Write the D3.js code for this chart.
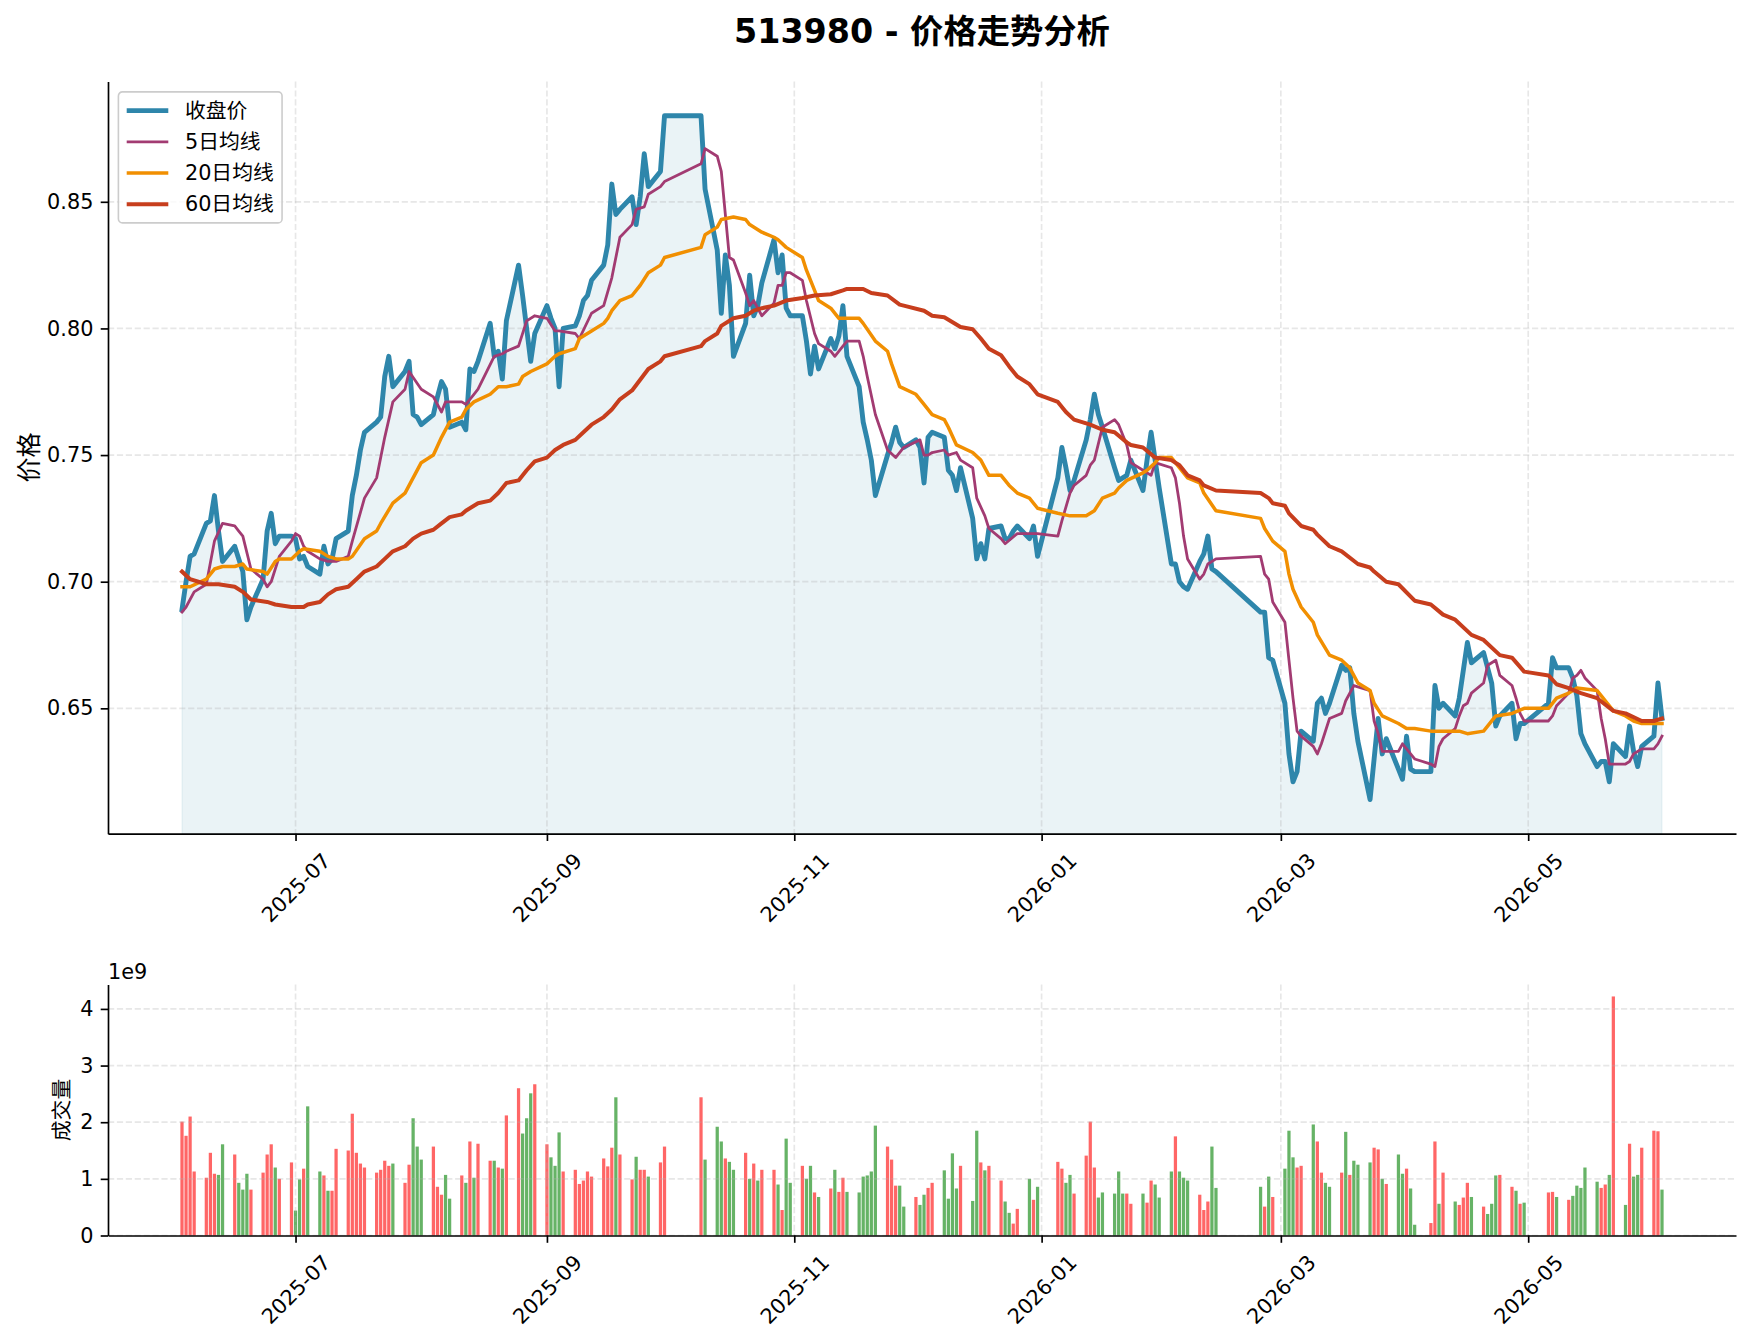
<!DOCTYPE html>
<html>
<head>
<meta charset="utf-8">
<script src="https://cdn.jsdelivr.net/npm/d3@7"></script>
<style>
  body { margin: 0; background: #fff; }
  svg text { font-family: "DejaVu Sans", "Noto Sans CJK SC", sans-serif; }
</style>
</head>
<body>
<svg id="chart"></svg>
<script>
// ---- data ----
const title = "513980 - 价格走势分析";
const seriesNames = ["收盘价", "5日均线", "20日均线", "60日均线"];

const dates = [
  "2025-06-03","2025-06-04","2025-06-05","2025-06-06","2025-06-09","2025-06-10","2025-06-11","2025-06-12","2025-06-13","2025-06-16","2025-06-17","2025-06-18","2025-06-19","2025-06-20","2025-06-23","2025-06-24","2025-06-25","2025-06-26","2025-06-27","2025-06-30",
  "2025-07-01","2025-07-02","2025-07-03","2025-07-04","2025-07-07","2025-07-08","2025-07-09","2025-07-10","2025-07-11","2025-07-14","2025-07-15","2025-07-16","2025-07-17","2025-07-18","2025-07-21","2025-07-22","2025-07-23","2025-07-24","2025-07-25","2025-07-28","2025-07-29","2025-07-30","2025-07-31",
  "2025-08-01","2025-08-04","2025-08-05","2025-08-06","2025-08-07","2025-08-08","2025-08-11","2025-08-12","2025-08-13","2025-08-14","2025-08-15","2025-08-18","2025-08-19","2025-08-20","2025-08-21","2025-08-22","2025-08-25","2025-08-26","2025-08-27","2025-08-28","2025-08-29",
  "2025-09-01","2025-09-02","2025-09-03","2025-09-04","2025-09-05","2025-09-08","2025-09-09","2025-09-10","2025-09-11","2025-09-12","2025-09-15","2025-09-16","2025-09-17","2025-09-18","2025-09-19","2025-09-22","2025-09-23","2025-09-24","2025-09-25","2025-09-26","2025-09-29","2025-09-30",
  "2025-10-09","2025-10-10","2025-10-13","2025-10-14","2025-10-15","2025-10-16","2025-10-17","2025-10-20","2025-10-21","2025-10-22","2025-10-23","2025-10-24","2025-10-27","2025-10-28","2025-10-29","2025-10-30","2025-10-31",
  "2025-11-03","2025-11-04","2025-11-05","2025-11-06","2025-11-07","2025-11-10","2025-11-11","2025-11-12","2025-11-13","2025-11-14","2025-11-17","2025-11-18","2025-11-19","2025-11-20","2025-11-21","2025-11-24","2025-11-25","2025-11-26","2025-11-27","2025-11-28",
  "2025-12-01","2025-12-02","2025-12-03","2025-12-04","2025-12-05","2025-12-08","2025-12-09","2025-12-10","2025-12-11","2025-12-12","2025-12-15","2025-12-16","2025-12-17","2025-12-18","2025-12-19","2025-12-22","2025-12-23","2025-12-24","2025-12-25","2025-12-26","2025-12-29","2025-12-30","2025-12-31",
  "2026-01-05","2026-01-06","2026-01-07","2026-01-08","2026-01-09","2026-01-12","2026-01-13","2026-01-14","2026-01-15","2026-01-16","2026-01-19","2026-01-20","2026-01-21","2026-01-22","2026-01-23","2026-01-26","2026-01-27","2026-01-28","2026-01-29","2026-01-30",
  "2026-02-02","2026-02-03","2026-02-04","2026-02-05","2026-02-06","2026-02-09","2026-02-10","2026-02-11","2026-02-12","2026-02-13","2026-02-24","2026-02-25","2026-02-26","2026-02-27",
  "2026-03-02","2026-03-03","2026-03-04","2026-03-05","2026-03-06","2026-03-09","2026-03-10","2026-03-11","2026-03-12","2026-03-13","2026-03-16","2026-03-17","2026-03-18","2026-03-19","2026-03-20","2026-03-23","2026-03-24","2026-03-25","2026-03-26","2026-03-27","2026-03-30","2026-03-31",
  "2026-04-01","2026-04-02","2026-04-03","2026-04-07","2026-04-08","2026-04-09","2026-04-10","2026-04-13","2026-04-14","2026-04-15","2026-04-16","2026-04-17","2026-04-20","2026-04-21","2026-04-22","2026-04-23","2026-04-24","2026-04-27","2026-04-28","2026-04-29","2026-04-30",
  "2026-05-06","2026-05-07","2026-05-08","2026-05-11","2026-05-12","2026-05-13","2026-05-14","2026-05-15","2026-05-18","2026-05-19","2026-05-20","2026-05-21","2026-05-22","2026-05-25","2026-05-26","2026-05-27","2026-05-28","2026-05-29",
  "2026-06-01","2026-06-02","2026-06-03"
];

const close = [
  0.689,0.700,0.710,0.711,0.723,0.724,0.734,0.720,0.708,0.714,0.709,0.704,0.685,0.690,0.701,0.720,0.727,0.715,0.718,0.718,
  0.717,0.709,0.710,0.706,0.703,0.714,0.707,0.709,0.717,0.720,0.734,0.742,0.752,0.759,0.763,0.765,0.781,0.789,0.777,0.783,0.787,0.766,0.765,
  0.762,0.766,0.773,0.779,0.776,0.761,0.763,0.760,0.784,0.783,0.787,0.802,0.789,0.791,0.780,0.803,0.825,0.813,0.800,0.787,0.798,
  0.809,0.804,0.800,0.777,0.800,0.801,0.805,0.811,0.813,0.819,0.825,0.833,0.857,0.845,0.847,0.852,0.841,0.852,0.869,0.856,0.862,0.884,
  0.884,0.855,0.831,0.806,0.829,0.817,0.789,0.802,0.821,0.805,0.809,0.818,0.835,0.822,0.829,0.808,0.805,
  0.805,0.795,0.782,0.793,0.784,0.796,0.792,0.797,0.809,0.789,0.777,0.763,0.756,0.748,0.734,0.750,0.755,0.761,0.755,0.753,
  0.756,0.753,0.739,0.757,0.759,0.757,0.744,0.742,0.736,0.745,0.725,0.709,0.715,0.709,0.721,0.722,0.717,0.717,0.720,0.722,0.717,0.722,0.710,
  0.741,0.753,0.745,0.736,0.740,0.756,0.764,0.774,0.766,0.761,0.745,0.740,0.741,0.742,0.748,0.736,0.748,0.759,0.748,0.737,
  0.707,0.707,0.700,0.698,0.697,0.708,0.711,0.718,0.705,0.704,0.688,0.688,0.670,0.669,
  0.652,0.632,0.621,0.625,0.641,0.637,0.652,0.654,0.648,0.652,0.667,0.665,0.666,0.648,0.637,0.614,0.630,0.646,0.632,0.638,0.626,0.622,
  0.639,0.626,0.625,0.625,0.659,0.650,0.652,0.647,0.654,0.665,0.676,0.668,0.672,0.666,0.660,0.643,0.647,0.652,0.638,0.644,0.644,
  0.652,0.670,0.666,0.666,0.662,0.655,0.640,0.636,0.627,0.629,0.629,0.621,0.636,0.631,0.643,0.633,0.627,0.635,
  0.639,0.660,0.646
];

// volume in units of 1e9
const volume = [
  2.01,1.76,2.10,1.13,1.02,1.46,1.09,1.07,1.61,1.43,0.93,0.81,1.09,0.81,1.11,1.43,1.61,1.20,1.00,1.29,
  0.44,0.99,1.18,2.28,1.13,1.06,0.79,0.79,1.53,1.50,2.15,1.46,1.27,1.20,1.11,1.16,1.32,1.23,1.27,0.93,1.25,2.07,1.57,
  1.34,1.57,0.86,0.72,1.07,0.65,1.06,0.93,1.66,1.02,1.62,1.32,1.32,1.20,1.18,2.12,2.60,1.80,2.07,2.51,2.67,
  1.61,1.38,1.23,1.82,1.13,1.16,0.91,0.97,1.13,1.04,1.36,1.22,1.55,2.44,1.43,0.99,1.39,1.16,1.16,1.04,1.29,1.57,
  2.44,1.34,1.92,1.66,1.36,1.30,1.16,1.46,1.00,1.27,0.97,1.16,1.16,0.90,0.45,1.71,0.93,
  1.23,1.00,1.23,0.76,0.68,0.83,1.16,0.77,1.02,0.77,0.76,1.04,1.06,1.13,1.94,1.57,1.34,0.88,0.88,0.51,
  0.68,0.54,0.72,0.84,0.93,1.15,0.65,1.45,0.83,1.23,0.61,1.85,1.29,1.15,1.23,0.97,0.60,0.40,0.21,0.47,1.00,0.63,0.86,
  1.30,1.18,0.93,1.07,0.74,1.41,2.01,1.20,0.67,0.76,0.74,1.13,0.74,0.74,0.56,0.74,0.58,0.97,0.90,0.67,
  1.13,1.75,1.13,1.02,0.97,0.72,0.45,0.60,1.57,0.84,0.86,0.51,1.04,0.68,
  1.18,1.85,1.38,1.20,1.23,1.96,1.66,1.11,0.93,0.86,1.11,1.83,1.07,1.32,1.25,1.29,1.55,1.52,1.00,0.91,1.43,1.09,
  1.18,0.83,0.19,0.22,1.66,0.56,1.11,0.60,0.54,0.67,0.93,0.68,0.51,0.38,0.56,1.06,1.07,0.86,0.79,0.56,0.58,
  0.76,0.77,0.68,0.63,0.70,0.88,0.84,1.20,0.95,0.84,0.90,1.07,4.22,0.54,1.62,1.04,1.07,1.55,
  1.85,1.84,0.81
];

// 1 = up day (red bar), 0 = down day (green bar)
const upDay = [
  1,1,1,1,1,1,1,0,0,1,0,0,0,1,1,1,1,0,1,1,
  0,0,1,0,0,1,0,1,1,1,1,1,1,1,1,1,1,1,0,1,1,0,0,
  0,1,1,1,0,0,1,0,1,0,1,1,0,1,0,1,1,0,0,0,1,
  1,0,0,0,1,1,1,1,1,1,1,1,1,0,1,1,0,1,1,0,1,1,
  1,0,0,0,1,0,0,1,0,1,0,1,1,0,1,0,0,
  1,0,0,1,0,1,0,1,1,0,0,0,0,0,0,1,1,1,0,0,
  1,0,0,1,1,0,0,0,0,1,0,0,1,0,1,1,0,0,1,1,0,1,0,
  1,1,0,0,1,1,1,1,0,0,0,0,0,1,1,0,1,1,0,0,
  0,1,0,0,0,1,1,1,0,0,0,1,0,1,
  0,0,0,1,1,0,1,1,0,0,1,0,1,0,0,0,1,1,0,1,0,0,
  1,0,0,1,1,0,1,0,1,1,1,0,1,0,0,0,1,1,0,1,0,
  1,1,0,1,0,0,0,0,0,1,1,0,1,0,1,0,0,1,
  1,1,0
];

// moving averages, sampled where the curves bend
const ma5Dates = [
  "2025-06-03","2025-06-04","2025-06-06","2025-06-09","2025-06-11","2025-06-13","2025-06-16","2025-06-17","2025-06-18","2025-06-20","2025-06-23","2025-06-24","2025-06-25","2025-06-27","2025-06-30",
  "2025-07-01","2025-07-02","2025-07-03","2025-07-04","2025-07-07","2025-07-09","2025-07-11","2025-07-14","2025-07-15","2025-07-18","2025-07-21","2025-07-23","2025-07-25","2025-07-28","2025-07-29",
  "2025-08-01","2025-08-04","2025-08-06","2025-08-07","2025-08-11","2025-08-12","2025-08-14","2025-08-15","2025-08-19","2025-08-21","2025-08-22","2025-08-25","2025-08-27","2025-08-29",
  "2025-09-01","2025-09-03","2025-09-04","2025-09-08","2025-09-09","2025-09-12","2025-09-15","2025-09-17","2025-09-19","2025-09-22","2025-09-23","2025-09-25","2025-09-26","2025-09-29","2025-09-30",
  "2025-10-09","2025-10-10","2025-10-13","2025-10-14","2025-10-15","2025-10-16","2025-10-17","2025-10-20","2025-10-21","2025-10-22","2025-10-24","2025-10-27","2025-10-28","2025-10-29","2025-10-30","2025-10-31",
  "2025-11-03","2025-11-04","2025-11-06","2025-11-07","2025-11-10","2025-11-11","2025-11-13","2025-11-14","2025-11-17","2025-11-18","2025-11-19","2025-11-21","2025-11-24","2025-11-26","2025-11-28",
  "2025-12-02","2025-12-03","2025-12-04","2025-12-05","2025-12-08","2025-12-09","2025-12-11","2025-12-12","2025-12-15","2025-12-16","2025-12-18","2025-12-19","2025-12-22","2025-12-23","2025-12-26","2025-12-29","2025-12-31",
  "2026-01-05","2026-01-06","2026-01-08","2026-01-09","2026-01-12","2026-01-13","2026-01-14","2026-01-16","2026-01-19","2026-01-20","2026-01-22","2026-01-23","2026-01-26","2026-01-28","2026-01-29",
  "2026-02-02","2026-02-03","2026-02-04","2026-02-05","2026-02-06","2026-02-09","2026-02-10","2026-02-11","2026-02-13","2026-02-24","2026-02-25","2026-02-26","2026-02-27",
  "2026-03-02","2026-03-03","2026-03-04","2026-03-05","2026-03-06","2026-03-09","2026-03-10","2026-03-11","2026-03-13","2026-03-16","2026-03-17","2026-03-19","2026-03-23","2026-03-24","2026-03-25","2026-03-26","2026-03-30","2026-03-31",
  "2026-04-03","2026-04-07","2026-04-08","2026-04-09","2026-04-10","2026-04-13","2026-04-14","2026-04-15","2026-04-16","2026-04-17","2026-04-20","2026-04-21","2026-04-23","2026-04-24","2026-04-27","2026-04-28","2026-04-29","2026-04-30",
  "2026-05-06","2026-05-07","2026-05-08","2026-05-11","2026-05-12","2026-05-13","2026-05-14","2026-05-15","2026-05-18","2026-05-19","2026-05-20","2026-05-21","2026-05-25","2026-05-26","2026-05-27","2026-05-28","2026-05-29",
  "2026-06-01","2026-06-02","2026-06-03"
];
const ma5 = [
  0.688,0.690,0.696,0.699,0.716,0.723,0.722,0.720,0.718,0.705,0.701,0.698,0.700,0.710,0.716,
  0.719,0.718,0.714,0.712,0.709,0.708,0.708,0.710,0.716,0.733,0.741,0.757,0.771,0.776,0.783,
  0.776,0.773,0.767,0.771,0.771,0.770,0.774,0.776,0.789,0.790,0.791,0.793,0.803,0.805,
  0.804,0.799,0.799,0.798,0.796,0.806,0.809,0.820,0.836,0.841,0.847,0.848,0.853,0.856,0.858,
  0.865,0.871,0.868,0.862,0.845,0.828,0.827,0.814,0.809,0.811,0.805,0.810,0.817,0.817,0.822,0.822,
  0.819,0.811,0.798,0.794,0.791,0.789,0.793,0.795,0.795,0.789,0.781,0.766,0.752,0.749,0.753,
  0.756,0.750,0.750,0.751,0.752,0.750,0.751,0.748,0.745,0.733,0.726,0.721,0.717,0.715,0.719,0.719,0.719,
  0.718,0.724,0.735,0.738,0.742,0.746,0.748,0.761,0.764,0.762,0.754,0.747,0.744,0.742,0.747,
  0.745,0.741,0.731,0.718,0.709,0.701,0.703,0.707,0.709,0.710,0.703,0.701,0.692,
  0.684,0.669,0.654,0.641,0.639,0.635,0.632,0.636,0.646,0.648,0.653,0.659,0.657,0.645,0.640,0.633,0.633,0.636,
  0.630,0.628,0.627,0.635,0.638,0.642,0.647,0.651,0.652,0.656,0.660,0.667,0.669,0.663,0.659,0.654,0.648,0.645,
  0.645,0.647,0.651,0.656,0.662,0.663,0.665,0.662,0.657,0.646,0.638,0.628,0.628,0.629,0.632,0.633,0.634,
  0.634,0.636,0.639
];

const ma20Dates = [
  "2025-06-03","2025-06-05","2025-06-09","2025-06-11","2025-06-13","2025-06-16","2025-06-18","2025-06-19","2025-06-23","2025-06-24","2025-06-26","2025-06-27","2025-06-30",
  "2025-07-02","2025-07-03","2025-07-07","2025-07-09","2025-07-11","2025-07-14","2025-07-15","2025-07-18","2025-07-21","2025-07-22","2025-07-25","2025-07-28","2025-07-30",
  "2025-08-01","2025-08-04","2025-08-06","2025-08-08","2025-08-11","2025-08-12","2025-08-14","2025-08-18","2025-08-20","2025-08-22","2025-08-25","2025-08-26","2025-08-28",
  "2025-09-01","2025-09-03","2025-09-04","2025-09-08","2025-09-09","2025-09-12","2025-09-15","2025-09-16","2025-09-17","2025-09-19","2025-09-22","2025-09-24","2025-09-26","2025-09-29","2025-09-30",
  "2025-10-09","2025-10-10","2025-10-13","2025-10-14","2025-10-17","2025-10-20","2025-10-21","2025-10-24","2025-10-27","2025-10-28","2025-10-30",
  "2025-11-03","2025-11-04","2025-11-06","2025-11-07","2025-11-10","2025-11-12","2025-11-17","2025-11-18","2025-11-21","2025-11-24","2025-11-25","2025-11-27",
  "2025-12-01","2025-12-03","2025-12-05","2025-12-08","2025-12-09","2025-12-11","2025-12-15","2025-12-17","2025-12-19","2025-12-22","2025-12-24","2025-12-26","2025-12-29","2025-12-31",
  "2026-01-05","2026-01-08","2026-01-12","2026-01-14","2026-01-16","2026-01-19","2026-01-20","2026-01-22","2026-01-26","2026-01-27","2026-01-29","2026-01-30",
  "2026-02-02","2026-02-03","2026-02-06","2026-02-09","2026-02-10","2026-02-13","2026-02-24","2026-02-25","2026-02-27",
  "2026-03-02","2026-03-03","2026-03-04","2026-03-06","2026-03-09","2026-03-10","2026-03-13","2026-03-16","2026-03-18","2026-03-20","2026-03-23","2026-03-24","2026-03-26","2026-03-30",
  "2026-04-01","2026-04-03","2026-04-07","2026-04-10","2026-04-14","2026-04-16","2026-04-20","2026-04-23","2026-04-27","2026-04-30",
  "2026-05-06","2026-05-08","2026-05-11","2026-05-13","2026-05-18","2026-05-22","2026-05-25","2026-05-27","2026-05-29",
  "2026-06-01","2026-06-03"
];
const ma20 = [
  0.698,0.698,0.701,0.705,0.706,0.706,0.707,0.705,0.704,0.703,0.708,0.709,0.709,
  0.712,0.713,0.712,0.710,0.709,0.709,0.710,0.717,0.720,0.723,0.731,0.735,0.741,
  0.747,0.750,0.757,0.763,0.765,0.768,0.771,0.774,0.777,0.777,0.778,0.781,0.783,
  0.786,0.789,0.790,0.792,0.796,0.799,0.802,0.804,0.807,0.811,0.813,0.817,0.822,0.825,0.828,
  0.832,0.837,0.840,0.843,0.844,0.843,0.841,0.838,0.836,0.835,0.832,
  0.828,0.823,0.815,0.811,0.808,0.804,0.804,0.802,0.795,0.791,0.786,0.777,
  0.774,0.770,0.766,0.764,0.761,0.754,0.751,0.748,0.742,0.742,0.738,0.735,0.733,0.729,
  0.727,0.726,0.726,0.728,0.733,0.735,0.737,0.740,0.743,0.744,0.747,0.749,
  0.749,0.747,0.741,0.739,0.735,0.728,0.725,0.721,0.716,
  0.712,0.703,0.697,0.690,0.684,0.679,0.671,0.669,0.666,0.660,0.657,0.652,0.647,0.644,
  0.642,0.642,0.641,0.641,0.641,0.640,0.641,0.647,0.648,0.650,
  0.650,0.654,0.656,0.658,0.657,0.649,0.647,0.645,0.644,
  0.644,0.644
];

const ma60Dates = [
  "2025-06-03","2025-06-05","2025-06-09","2025-06-12","2025-06-16","2025-06-18","2025-06-20","2025-06-24","2025-06-26","2025-06-30",
  "2025-07-03","2025-07-04","2025-07-07","2025-07-09","2025-07-11","2025-07-14","2025-07-16","2025-07-18","2025-07-21","2025-07-23","2025-07-25","2025-07-28","2025-07-30",
  "2025-08-01","2025-08-04","2025-08-06","2025-08-08","2025-08-11","2025-08-12","2025-08-15","2025-08-18","2025-08-20","2025-08-22","2025-08-25","2025-08-27","2025-08-29",
  "2025-09-01","2025-09-03","2025-09-05","2025-09-08","2025-09-10","2025-09-12","2025-09-15","2025-09-17","2025-09-19","2025-09-22","2025-09-26","2025-09-29","2025-09-30",
  "2025-10-09","2025-10-10","2025-10-13","2025-10-14","2025-10-17","2025-10-20","2025-10-22","2025-10-24","2025-10-27","2025-10-30",
  "2025-11-03","2025-11-06","2025-11-10","2025-11-13","2025-11-14","2025-11-18","2025-11-20","2025-11-24","2025-11-27","2025-11-28",
  "2025-12-03","2025-12-05","2025-12-08","2025-12-12","2025-12-15","2025-12-17","2025-12-19","2025-12-22","2025-12-24","2025-12-26","2025-12-29","2025-12-31",
  "2026-01-05","2026-01-07","2026-01-09","2026-01-13","2026-01-16","2026-01-19","2026-01-22","2026-01-23","2026-01-26","2026-01-29",
  "2026-02-02","2026-02-04","2026-02-06","2026-02-09","2026-02-10","2026-02-13","2026-02-24","2026-02-26","2026-02-27",
  "2026-03-02","2026-03-03","2026-03-06","2026-03-09","2026-03-10","2026-03-13","2026-03-16","2026-03-20","2026-03-23","2026-03-24","2026-03-27","2026-03-30",
  "2026-04-03","2026-04-07","2026-04-10","2026-04-13","2026-04-17","2026-04-20","2026-04-24","2026-04-27","2026-04-30",
  "2026-05-06","2026-05-08","2026-05-11","2026-05-14","2026-05-18","2026-05-22","2026-05-25","2026-05-29",
  "2026-06-01","2026-06-03"
];
const ma60 = [
  0.704,0.701,0.699,0.699,0.698,0.696,0.693,0.692,0.691,0.690,
  0.690,0.691,0.692,0.695,0.697,0.698,0.701,0.704,0.706,0.709,0.712,0.714,0.717,
  0.719,0.7205,0.723,0.7255,0.7266,0.728,0.731,0.732,0.735,0.739,0.740,0.744,0.7475,
  0.749,0.752,0.754,0.756,0.759,0.762,0.765,0.768,0.772,0.7755,0.784,0.787,0.789,
  0.793,0.795,0.798,0.801,0.804,0.805,0.807,0.808,0.809,0.811,
  0.812,0.813,0.8135,0.815,0.8156,0.8156,0.814,0.813,0.8094,0.809,
  0.807,0.805,0.8044,0.8006,0.7997,0.796,0.792,0.7894,0.785,0.781,0.778,0.774,
  0.771,0.767,0.764,0.762,0.760,0.759,0.755,0.754,0.753,0.749,
  0.748,0.746,0.742,0.740,0.738,0.736,0.735,0.733,0.731,
  0.730,0.727,0.722,0.7205,0.7186,0.714,0.712,0.707,0.7056,0.704,0.700,0.699,
  0.6925,0.691,0.687,0.685,0.679,0.677,0.671,0.670,0.6645,
  0.663,0.6595,0.658,0.656,0.654,0.649,0.648,0.645,
  0.645,0.646
];

const monthTicks = ["2025-07-01","2025-09-01","2025-11-01","2026-01-01","2026-03-01","2026-05-01"];

// ---- layout ----
const W = 1750, H = 1342;
const L = 108, R = 1736;
const pTop = 81.5, pBot = 833.7;
const vTop = 984.5, vBot = 1235.5;
const FS = 20.8;
const colors = ["#2E86AB", "#A23B72", "#F18F01", "#C73E1D"];
const widths = [4.9, 2.8, 3.5, 4.0];

const svg = d3.select("#chart").attr("width", W).attr("height", H);
svg.append("rect").attr("width", W).attr("height", H).attr("fill", "#fff");

const parse = d3.utcParse("%Y-%m-%d");
const days = dates.map(parse);

// scales, with matplotlib-like 5% margins
const span = days[days.length - 1] - days[0];
const x = d3.scaleUtc()
  .domain([new Date(+days[0] - span * 0.05), new Date(+days[days.length - 1] + span * 0.05)])
  .range([L, R]);

const allP = close.concat(ma5, ma20, ma60);
const [pMin, pMax] = d3.extent(allP);
const pPad = (pMax - pMin) * 0.05;
const y = d3.scaleLinear().domain([pMin - pPad, pMax + pPad]).range([pBot, pTop]);

const v = d3.scaleLinear().domain([0, d3.max(volume) * 1.05]).range([vBot, vTop]);

const tickDates = monthTicks.map(parse);

// grid lines
function grid(yScale, yTicks, top, bot) {
  const g = svg.append("g").attr("stroke", "#b0b0b0").attr("stroke-opacity", 0.3)
    .attr("stroke-width", 1.67).attr("stroke-dasharray", "6.2,2.7");
  g.selectAll(".gx").data(tickDates).enter().append("line")
    .attr("x1", d => x(d)).attr("x2", d => x(d)).attr("y1", top).attr("y2", bot);
  g.selectAll(".gy").data(yTicks).enter().append("line")
    .attr("x1", L).attr("x2", R).attr("y1", d => yScale(d)).attr("y2", d => yScale(d));
}

// ---- price panel ----
const closeData = days.map((d, i) => ({ d: d, v: close[i] }));
const area = d3.area().x(d => x(d.d)).y0(pBot).y1(d => y(d.v));
svg.append("path").datum(closeData).attr("d", area)
  .attr("fill", colors[0]).attr("fill-opacity", 0.1)
  .attr("stroke", colors[0]).attr("stroke-opacity", 0.1);

grid(y, y.ticks(6), pTop, pBot);

const line = d3.line().x(d => x(d.d)).y(d => y(d.v));
const series = [
  closeData,
  ma5Dates.map((s, i) => ({ d: parse(s), v: ma5[i] })),
  ma20Dates.map((s, i) => ({ d: parse(s), v: ma20[i] })),
  ma60Dates.map((s, i) => ({ d: parse(s), v: ma60[i] }))
];
series.forEach((s, k) => {
  svg.append("path").datum(s).attr("d", line)
    .attr("fill", "none").attr("stroke", colors[k]).attr("stroke-width", widths[k])
    .attr("stroke-linejoin", "round").attr("stroke-linecap", "square");
});

// axes helper
function styleAxis(g) {
  g.attr("font-size", FS).attr("font-family", "DejaVu Sans, Noto Sans CJK SC, sans-serif");
  g.selectAll("line, path").attr("stroke", "#000").attr("stroke-width", 1.67);
  g.selectAll("text").attr("fill", "#000");
}
function xAxis(yPos) {
  const g = svg.append("g").attr("transform", `translate(0,${yPos})`)
    .call(d3.axisBottom(x).tickValues(tickDates).tickFormat(d3.utcFormat("%Y-%m"))
      .tickSize(7.3).tickSizeOuter(0).tickPadding(7.3));
  styleAxis(g);
  g.selectAll(".tick text").attr("y", 0).attr("dy", "0.35em")
    .attr("text-anchor", "middle").attr("transform", "translate(0,54) rotate(-45)");
}

const gy = svg.append("g").attr("transform", `translate(${L},0)`)
  .call(d3.axisLeft(y).ticks(6).tickFormat(d3.format(".2f")).tickSize(7.3).tickSizeOuter(0).tickPadding(7.3));
styleAxis(gy);
xAxis(pBot);

svg.append("text").attr("transform", `translate(29,${(pTop + pBot) / 2}) rotate(-90)`)
  .attr("text-anchor", "middle").attr("dy", "0.35em").attr("font-size", 25).text("价格");

// legend
const lg = svg.append("g").attr("transform", "translate(118.4,91.9)");
const lgBox = lg.append("rect").attr("rx", 4).attr("ry", 4)
  .attr("fill", "#fff").attr("fill-opacity", 0.8).attr("stroke", "#cccccc").attr("stroke-width", 1.6);
let maxW = 0;
seriesNames.forEach((name, k) => {
  const cy = 8.3 + FS / 2 + k * 31.2;
  lg.append("line").attr("x1", 8.3).attr("x2", 8.3 + 41.6).attr("y1", cy).attr("y2", cy)
    .attr("stroke", colors[k]).attr("stroke-width", widths[k]);
  const t = lg.append("text").attr("x", 8.3 + 41.6 + 16.6).attr("y", cy).attr("dy", "0.35em")
    .attr("font-size", FS).text(name);
  maxW = Math.max(maxW, t.node().getComputedTextLength());
});
lgBox.attr("width", 8.3 + 41.6 + 16.6 + maxW + 8.3)
  .attr("height", 8.3 * 2 + FS + 3 * 31.2);

// title
svg.append("text").attr("x", (L + R) / 2).attr("y", 42.5).attr("text-anchor", "middle")
  .attr("font-size", 33.3).attr("font-weight", "bold").text(title);

// ---- volume panel ----
const barW = x(new Date(+days[0] + 0.8 * 864e5)) - x(days[0]);
svg.append("g").selectAll("rect").data(volume).enter().append("rect")
  .attr("x", (d, i) => x(days[i]) - barW / 2)
  .attr("y", d => v(d))
  .attr("width", barW)
  .attr("height", d => vBot - v(d))
  .attr("fill", (d, i) => upDay[i] ? "red" : "green")
  .attr("fill-opacity", 0.6);

grid(v, v.ticks(5), vTop, vBot);

const gv = svg.append("g").attr("transform", `translate(${L},0)`)
  .call(d3.axisLeft(v).ticks(5).tickFormat(d3.format("d")).tickSize(7.3).tickSizeOuter(0).tickPadding(7.3));
styleAxis(gv);
xAxis(vBot);

svg.append("text").attr("x", L).attr("y", 979).attr("font-size", FS).text("1e9");
svg.append("text").attr("transform", `translate(62,${(vTop + vBot) / 2}) rotate(-90)`)
  .attr("text-anchor", "middle").attr("dy", "0.35em").attr("font-size", FS).text("成交量");
</script>
</body>
</html>
